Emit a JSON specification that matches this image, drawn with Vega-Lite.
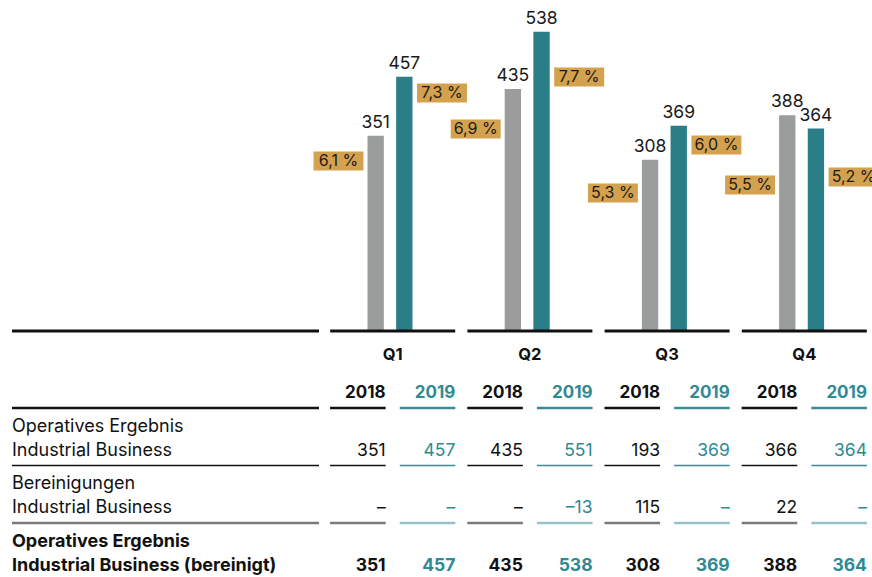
{
  "$schema": "https://vega.github.io/schema/vega-lite/v6.json",
  "width": 872,
  "height": 577,
  "padding": 0,
  "autosize": {"type": "none"},
  "background": "white",
  "config": {"view": {"stroke": null}, "font": "Inter"},
  "datasets": {
    "balken": [
      {"quartal": "Q1", "jahr": "2018", "wert": 351, "marge": 6.1, "marge_text": "6,1 %"},
      {"quartal": "Q1", "jahr": "2019", "wert": 457, "marge": 7.3, "marge_text": "7,3 %"},
      {"quartal": "Q2", "jahr": "2018", "wert": 435, "marge": 6.9, "marge_text": "6,9 %"},
      {"quartal": "Q2", "jahr": "2019", "wert": 538, "marge": 7.7, "marge_text": "7,7 %"},
      {"quartal": "Q3", "jahr": "2018", "wert": 308, "marge": 5.3, "marge_text": "5,3 %"},
      {"quartal": "Q3", "jahr": "2019", "wert": 369, "marge": 6.0, "marge_text": "6,0 %"},
      {"quartal": "Q4", "jahr": "2018", "wert": 388, "marge": 5.5, "marge_text": "5,5 %"},
      {"quartal": "Q4", "jahr": "2019", "wert": 364, "marge": 5.2, "marge_text": "5,2 %"}
    ],
    "tabelle": [
      {"zeile": "Operatives Ergebnis", "quartal": "Q1", "jahr": "2018", "text": "351"},
      {"zeile": "Operatives Ergebnis", "quartal": "Q1", "jahr": "2019", "text": "457"},
      {"zeile": "Operatives Ergebnis", "quartal": "Q2", "jahr": "2018", "text": "435"},
      {"zeile": "Operatives Ergebnis", "quartal": "Q2", "jahr": "2019", "text": "551"},
      {"zeile": "Operatives Ergebnis", "quartal": "Q3", "jahr": "2018", "text": "193"},
      {"zeile": "Operatives Ergebnis", "quartal": "Q3", "jahr": "2019", "text": "369"},
      {"zeile": "Operatives Ergebnis", "quartal": "Q4", "jahr": "2018", "text": "366"},
      {"zeile": "Operatives Ergebnis", "quartal": "Q4", "jahr": "2019", "text": "364"},
      {"zeile": "Bereinigungen", "quartal": "Q1", "jahr": "2018", "text": "–"},
      {"zeile": "Bereinigungen", "quartal": "Q1", "jahr": "2019", "text": "–"},
      {"zeile": "Bereinigungen", "quartal": "Q2", "jahr": "2018", "text": "–"},
      {"zeile": "Bereinigungen", "quartal": "Q2", "jahr": "2019", "text": "–13"},
      {"zeile": "Bereinigungen", "quartal": "Q3", "jahr": "2018", "text": "115"},
      {"zeile": "Bereinigungen", "quartal": "Q3", "jahr": "2019", "text": "–"},
      {"zeile": "Bereinigungen", "quartal": "Q4", "jahr": "2018", "text": "22"},
      {"zeile": "Bereinigungen", "quartal": "Q4", "jahr": "2019", "text": "–"},
      {"zeile": "Bereinigt", "quartal": "Q1", "jahr": "2018", "text": "351"},
      {"zeile": "Bereinigt", "quartal": "Q1", "jahr": "2019", "text": "457"},
      {"zeile": "Bereinigt", "quartal": "Q2", "jahr": "2018", "text": "435"},
      {"zeile": "Bereinigt", "quartal": "Q2", "jahr": "2019", "text": "538"},
      {"zeile": "Bereinigt", "quartal": "Q3", "jahr": "2018", "text": "308"},
      {"zeile": "Bereinigt", "quartal": "Q3", "jahr": "2019", "text": "369"},
      {"zeile": "Bereinigt", "quartal": "Q4", "jahr": "2018", "text": "388"},
      {"zeile": "Bereinigt", "quartal": "Q4", "jahr": "2019", "text": "364"}
    ],
    "zeilen": [
      {"zeile": "Operatives Ergebnis", "text": "Operatives Ergebnis\nIndustrial Business"},
      {"zeile": "Bereinigungen", "text": "Bereinigungen\nIndustrial Business"},
      {"zeile": "Bereinigt", "text": "Operatives Ergebnis\nIndustrial Business (bereinigt)"}
    ]
  },
  "layer": [
    {
      "data": {"name": "balken"},
      "encoding": {
        "x": {"field": "quartal", "type": "nominal", "axis": null, "scale": {"domain": ["Q1", "Q2", "Q3", "Q4"], "range": [330, 867], "paddingInner": 0.086, "paddingOuter": 0}},
        "y": {"field": "wert", "type": "quantitative", "axis": null, "scale": {"domain": [0, 595], "range": [331, 0], "nice": false}}
      },
      "layer": [
        {
          "mark": {"type": "bar"},
          "encoding": {
            "xOffset": {"field": "jahr", "type": "nominal", "scale": {"domain": ["2018", "2019"], "range": [37.5, 82.5], "paddingInner": 0.43, "paddingOuter": 0}},
            "color": {"field": "jahr", "type": "nominal", "legend": null, "scale": {"domain": ["2018", "2019"], "range": ["#9b9d9c", "#2a7e88"]}}
          }
        },
        {
          "mark": {"type": "text", "baseline": "alphabetic", "dy": -8, "fontSize": 17.5, "color": "#1a1a1a"},
          "encoding": {
            "xOffset": {"field": "jahr", "type": "nominal"},
            "text": {"field": "wert", "type": "quantitative"}
          }
        },
        {
          "transform": [{"filter": "datum.jahr === '2018'"}],
          "mark": {"type": "tick", "orient": "horizontal", "size": 125, "thickness": 3, "color": "#111111", "opacity": 1},
          "encoding": {"y": {"datum": 0, "type": "quantitative"}}
        }
      ]
    },
    {
      "data": {"name": "balken"},
      "encoding": {
        "x": {"field": "quartal", "type": "nominal", "axis": null, "scale": {"domain": ["Q1", "Q2", "Q3", "Q4"], "range": [330, 867], "paddingInner": 0.086, "paddingOuter": 0}},
        "y": {"field": "marge", "type": "quantitative", "axis": null, "scale": {"domain": [5.3, 6.9], "range": [193, 129], "nice": false, "zero": false}},
        "xOffset": {"field": "jahr", "type": "nominal", "scale": {"type": "point", "domain": ["2018", "2019"], "range": [8.5, 112], "padding": 0}}
      },
      "layer": [
        {
          "transform": [{"filter": "datum.jahr === '2018'"}],
          "mark": {"type": "point", "shape": "M-2.63,-1H2.63V1H-2.63Z", "size": 361, "filled": true, "opacity": 1, "color": "#d4a24f", "strokeWidth": 0}
        },
        {
          "transform": [{"filter": "datum.jahr === '2018'"}],
          "mark": {"type": "text", "fontSize": 16, "color": "#1a1a1a", "baseline": "middle"},
          "encoding": {"text": {"field": "marge_text", "type": "nominal"}}
        },
        {
          "transform": [{"filter": "datum.jahr === '2019'"}],
          "mark": {"type": "point", "shape": "M-2.63,-1H2.63V1H-2.63Z", "size": 361, "filled": true, "opacity": 1, "color": "#d4a24f", "strokeWidth": 0, "yOffset": -20}
        },
        {
          "transform": [{"filter": "datum.jahr === '2019'"}],
          "mark": {"type": "text", "fontSize": 16, "color": "#1a1a1a", "baseline": "middle", "yOffset": -20},
          "encoding": {"text": {"field": "marge_text", "type": "nominal"}}
        }
      ]
    },
    {
      "encoding": {
        "x": {"field": "quartal", "type": "nominal", "axis": null, "scale": {"domain": ["Q1", "Q2", "Q3", "Q4"], "range": [330, 867], "paddingInner": 0.086, "paddingOuter": 0}}
      },
      "layer": [
        {
          "data": {"name": "balken"},
          "transform": [{"filter": "datum.jahr === '2018'"}],
          "mark": {"type": "text", "fontSize": 16.5, "fontWeight": "bold", "color": "#111111", "baseline": "alphabetic", "dy": 37.75},
          "encoding": {
            "y": {"datum": "Quartal", "type": "nominal", "axis": null, "scale": {"domain": ["Quartal", "Jahr", "Operatives Ergebnis", "Bereinigungen", "Bereinigt"], "range": [293, 580.5], "paddingInner": 0, "paddingOuter": 0}},
            "text": {"field": "quartal", "type": "nominal"}
          }
        },
        {
          "data": {"name": "balken"},
          "mark": {"type": "text", "fontSize": 17, "fontWeight": "bold", "align": "right", "baseline": "alphabetic", "dx": 27.8, "dy": 19},
          "encoding": {
            "y": {"datum": "Jahr", "type": "nominal"},
            "xOffset": {"field": "jahr", "type": "nominal", "scale": {"domain": ["2018", "2019"], "paddingInner": 0.2, "paddingOuter": 0}},
            "text": {"field": "jahr", "type": "nominal"},
            "color": {"condition": {"test": "datum.jahr === '2019'", "value": "#2f8a93"}, "value": "#111111"}
          }
        },
        {
          "data": {"name": "balken"},
          "mark": {"type": "tick", "orient": "horizontal", "size": 55.6, "thickness": 2.5, "yOffset": 28.75, "opacity": 1},
          "encoding": {
            "y": {"datum": "Jahr", "type": "nominal"},
            "xOffset": {"field": "jahr", "type": "nominal"},
            "color": {"condition": {"test": "datum.jahr === '2019'", "value": "#3a8c95"}, "value": "#111111"}
          }
        },
        {
          "data": {"name": "tabelle"},
          "transform": [{"filter": "datum.zeile !== 'Bereinigt'"}],
          "mark": {"type": "text", "fontSize": 17.5, "align": "right", "baseline": "alphabetic", "dx": 27.8, "dy": 19},
          "encoding": {
            "y": {"field": "zeile", "type": "nominal"},
            "xOffset": {"field": "jahr", "type": "nominal"},
            "text": {"field": "text", "type": "nominal"},
            "color": {"condition": {"test": "datum.jahr === '2019'", "value": "#2f8a93"}, "value": "#111111"}
          }
        },
        {
          "data": {"name": "tabelle"},
          "transform": [{"filter": "datum.zeile === 'Bereinigt'"}],
          "mark": {"type": "text", "fontSize": 17.5, "fontWeight": "bold", "align": "right", "baseline": "alphabetic", "dx": 27.8, "dy": 19},
          "encoding": {
            "y": {"field": "zeile", "type": "nominal"},
            "xOffset": {"field": "jahr", "type": "nominal"},
            "text": {"field": "text", "type": "nominal"},
            "color": {"condition": {"test": "datum.jahr === '2019'", "value": "#2f8a93"}, "value": "#111111"}
          }
        },
        {
          "data": {"name": "tabelle"},
          "transform": [{"filter": "datum.zeile === 'Operatives Ergebnis'"}],
          "mark": {"type": "tick", "orient": "horizontal", "size": 55.6, "thickness": 1.6, "yOffset": 28.75, "opacity": 1},
          "encoding": {
            "y": {"field": "zeile", "type": "nominal"},
            "xOffset": {"field": "jahr", "type": "nominal"},
            "color": {"condition": {"test": "datum.jahr === '2019'", "value": "#3a8c95"}, "value": "#111111"}
          }
        },
        {
          "data": {"name": "tabelle"},
          "transform": [{"filter": "datum.zeile === 'Bereinigungen'"}],
          "mark": {"type": "tick", "orient": "horizontal", "size": 55.6, "thickness": 2.5, "yOffset": 28.75, "opacity": 1},
          "encoding": {
            "y": {"field": "zeile", "type": "nominal"},
            "xOffset": {"field": "jahr", "type": "nominal"},
            "color": {"condition": {"test": "datum.jahr === '2019'", "value": "#93c2c8"}, "value": "#7b7b7b"}
          }
        }
      ]
    },
    {
      "data": {"name": "zeilen"},
      "encoding": {
        "x": {"datum": "Bezeichnung", "type": "nominal", "axis": null, "scale": {"domain": ["Bezeichnung"], "range": [12, 319], "paddingInner": 0, "paddingOuter": 0}},
        "y": {"field": "zeile", "type": "nominal", "axis": null, "scale": {"domain": ["Quartal", "Jahr", "Operatives Ergebnis", "Bereinigungen", "Bereinigt"], "range": [293, 580.5], "paddingInner": 0, "paddingOuter": 0}}
      },
      "layer": [
        {
          "transform": [{"filter": "datum.zeile !== 'Bereinigt'"}],
          "mark": {"type": "text", "fontSize": 18, "align": "left", "baseline": "alphabetic", "dx": -153.5, "dy": -5.25, "lineHeight": 24, "lineBreak": "\n", "color": "#111111"},
          "encoding": {"text": {"field": "text", "type": "nominal"}}
        },
        {
          "transform": [{"filter": "datum.zeile === 'Bereinigt'"}],
          "mark": {"type": "text", "fontSize": 18, "fontWeight": "bold", "align": "left", "baseline": "alphabetic", "dx": -153.5, "dy": -5.25, "lineHeight": 24, "lineBreak": "\n", "color": "#111111"},
          "encoding": {"text": {"field": "text", "type": "nominal"}}
        },
        {
          "transform": [{"filter": "datum.zeile === 'Operatives Ergebnis'"}],
          "mark": {"type": "tick", "orient": "horizontal", "size": 307, "thickness": 1.6, "yOffset": 28.75, "color": "#111111", "opacity": 1}
        },
        {
          "transform": [{"filter": "datum.zeile === 'Bereinigungen'"}],
          "mark": {"type": "tick", "orient": "horizontal", "size": 307, "thickness": 2.5, "yOffset": 28.75, "color": "#7b7b7b", "opacity": 1}
        },
        {
          "transform": [{"filter": "datum.zeile === 'Operatives Ergebnis'"}],
          "mark": {"type": "tick", "orient": "horizontal", "size": 307, "thickness": 2.5, "yOffset": 28.75, "color": "#111111", "opacity": 1},
          "encoding": {"y": {"datum": "Jahr", "type": "nominal"}}
        },
        {
          "transform": [{"filter": "datum.zeile === 'Operatives Ergebnis'"}],
          "mark": {"type": "tick", "orient": "horizontal", "size": 307, "thickness": 3, "yOffset": 9.25, "color": "#111111", "opacity": 1},
          "encoding": {"y": {"datum": "Quartal", "type": "nominal"}}
        }
      ]
    }
  ],
  "resolve": {"scale": {"x": "independent", "y": "independent", "xOffset": "independent", "color": "independent"}}
}
